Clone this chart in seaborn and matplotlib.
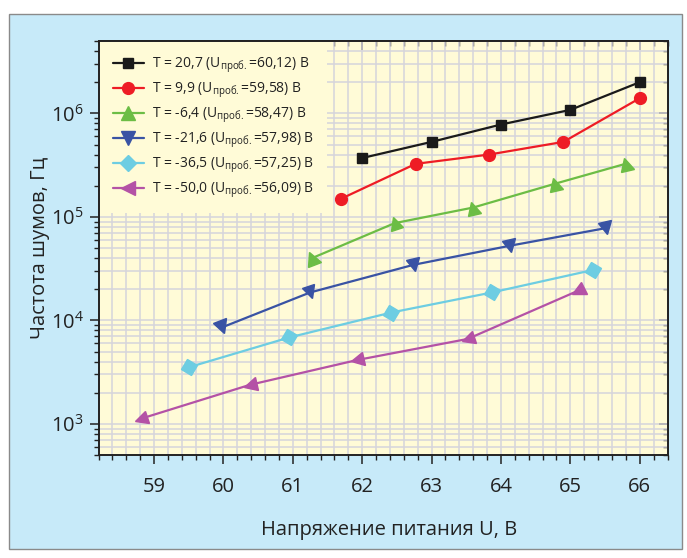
import numpy as np
import pandas as pd
import matplotlib
matplotlib.use("Agg")
import matplotlib.pyplot as plt
import seaborn as sns
from matplotlib.lines import Line2D
from matplotlib.markers import MarkerStyle
from matplotlib.transforms import Affine2D
from matplotlib.patches import Rectangle
from matplotlib.ticker import MultipleLocator, LogLocator, NullFormatter, LogFormatterMathtext

# ---- data -----------------------------------------------------------------
temps = ["20,7", "9,9", "-6,4", "-21,6", "-36,5", "-50,0"]
u_breakdown = ["60,12", "59,58", "58,47", "57,98", "57,25", "56,09"]

u_t1 = [62.0, 63.0, 64.0, 65.0, 66.0]
f_t1 = [3.7e5, 5.3e5, 7.8e5, 1.08e6, 2.0e6]

u_t2 = [61.7, 62.77, 63.83, 64.9, 66.0]
f_t2 = [1.5e5, 3.25e5, 4.0e5, 5.3e5, 1.4e6]

u_t3 = [61.28, 62.47, 63.6, 64.78, 65.8]
f_t3 = [4.0e4, 8.7e4, 1.23e5, 2.09e5, 3.26e5]

u_t4 = [59.98, 61.25, 62.74, 64.13, 65.52]
f_t4 = [8.55e3, 1.86e4, 3.44e4, 5.26e4, 7.8e4]

u_t5 = [59.5, 60.95, 62.42, 63.87, 65.32]
f_t5 = [3.52e3, 6.84e3, 1.19e4, 1.86e4, 3.06e4]

u_t6 = [58.81, 60.38, 61.93, 63.52, 65.11]
f_t6 = [1.12e3, 2.38e3, 4.14e3, 6.61e3, 1.93e4]

x_ticks = [59, 60, 61, 62, 63, 64, 65, 66]

# ---- styling --------------------------------------------------------------
colors = ["#1a1a1a", "#ee1c25", "#6cbd45", "#3953a4", "#6dcde2", "#b452a6"]
markers = ["s", "o", "^", "v", "D", "<"]
msizes = [7.5, 8.5, 9.5, 9.5, 8.0, 9.5]
rotate = [False, False, True, True, True, True]

panel_color = "#c7eaf9"
plot_bg = "#fffbd7"
grid_color = "#d5d5dc"
ink = "#222222"

sns.set_theme(style="white")
plt.rcParams["font.family"] = ["Open Sans", "DejaVu Sans"]
plt.rcParams["mathtext.default"] = "regular"

us = [u_t1, u_t2, u_t3, u_t4, u_t5, u_t6]
fs = [f_t1, f_t2, f_t3, f_t4, f_t5, f_t6]
labels = [f"T = {t} ($\\mathregular{{U_{{проб.}}}}$={u}) В" for t, u in zip(temps, u_breakdown)]

df = pd.concat(
    [pd.DataFrame({"U": u, "f": f, "series": lab}) for u, f, lab in zip(us, fs, labels)],
    ignore_index=True,
)

W, H = 687, 558
fig = plt.figure(figsize=(W / 100, H / 100), dpi=100)
fig.patch.set_facecolor("white")
panel = Rectangle((9 / W, 9 / H), 673 / W, 535 / H, transform=fig.transFigure,
                  facecolor=panel_color, edgecolor="#8a8a8a", linewidth=1.0, zorder=-10)
fig.add_artist(panel)

ax = fig.add_axes([98.5 / W, 103 / H, 569 / W, 414 / H])
ax.set_facecolor(plot_bg)
ax.set_yscale("log")
ax.set_xlim(58.2, 66.4)
ax.set_ylim(500, 5e6)

sns.lineplot(data=df, x="U", y="f", hue="series", palette=colors, estimator=None,
             sort=False, linewidth=1.6, legend=False, ax=ax, zorder=3)

# markers, triangles/diamonds turned along the local direction of the curve
for u, f, c, m, ms, rot in zip(us, fs, colors, markers, msizes, rotate):
    pts = ax.transData.transform(np.column_stack([u, f]))
    seg = np.degrees(np.arctan2(np.diff(pts[:, 1]), np.diff(pts[:, 0])))
    for i, (xu, yf) in enumerate(zip(u, f)):
        if rot:
            if i == 0:
                ang = seg[0]
            elif i == len(u) - 1:
                ang = seg[-1]
            else:
                ang = 0.5 * (seg[i - 1] + seg[i])
            mk = MarkerStyle(m, transform=Affine2D().rotate_deg(ang))
        else:
            mk = m
        ax.plot([xu], [yf], linestyle="none", marker=mk, markersize=ms,
                color=c, markeredgecolor=c, zorder=4)

# ticks: outward on the left/bottom, inward on the mirrored top/right
ax.xaxis.set_major_locator(MultipleLocator(1))
ax.xaxis.set_minor_locator(MultipleLocator(0.2))
ax.yaxis.set_major_locator(LogLocator(base=10, numticks=20))
ax.yaxis.set_minor_locator(LogLocator(base=10, subs=np.arange(2, 10), numticks=20))
ax.yaxis.set_major_formatter(LogFormatterMathtext())
ax.yaxis.set_minor_formatter(NullFormatter())
ax.set_xticks(x_ticks)
ax.tick_params(axis="both", which="major", direction="out", length=6.5, width=1.1,
               color=ink, labelsize=14.5, labelcolor=ink,
               bottom=True, left=True, top=False, right=False)
ax.tick_params(axis="both", which="minor", direction="out", length=3.5, width=1.0, color=ink,
               bottom=True, left=True, top=False, right=False)
ax.tick_params(axis="x", which="major", pad=9)
ax.tick_params(axis="y", which="major", pad=4)

top = ax.secondary_xaxis("top")
top.xaxis.set_major_locator(MultipleLocator(1))
top.xaxis.set_minor_locator(MultipleLocator(0.2))
top.tick_params(axis="x", which="major", direction="in", length=6.5, width=1.1, color=ink,
                top=True, bottom=False, labeltop=False, labelbottom=False)
top.tick_params(axis="x", which="minor", direction="in", length=3.5, width=1.0, color=ink,
                top=True, bottom=False)
top.spines["top"].set_linewidth(1.4)
top.spines["top"].set_color(ink)

right = ax.secondary_yaxis("right")
right.yaxis.set_major_locator(LogLocator(base=10, numticks=20))
right.yaxis.set_minor_locator(LogLocator(base=10, subs=np.arange(2, 10), numticks=20))
right.yaxis.set_minor_formatter(NullFormatter())
right.tick_params(axis="y", which="major", direction="in", length=6.5, width=1.1, color=ink,
                  right=True, left=False, labelright=False, labelleft=False)
right.tick_params(axis="y", which="minor", direction="in", length=3.5, width=1.0, color=ink,
                  right=True, left=False, labelright=False, labelleft=False)
right.spines["right"].set_linewidth(1.4)
right.spines["right"].set_color(ink)

for s in ax.spines.values():
    s.set_color(ink)
    s.set_linewidth(1.4)

ax.grid(True, which="both", color=grid_color, linewidth=1.1)
ax.set_axisbelow(True)

ax.set_xlabel("Напряжение питания U, В", fontsize=14.5, color=ink, va="top")
ax.xaxis.set_label_coords(0.51, -0.158)
ax.set_ylabel("Частота шумов, Гц", fontsize=14.5, color=ink)
ax.yaxis.set_label_coords(-0.085, 0.5)

handles = [Line2D([], [], color=c, marker=m, markersize=ms, linewidth=1.6)
           for c, m, ms in zip(colors, markers, msizes)]
leg = ax.legend(handles, labels, loc="upper left", bbox_to_anchor=(0.0, 1.0),
                fontsize=10.0, frameon=True, fancybox=False, framealpha=1.0,
                facecolor=plot_bg, edgecolor="none", handlelength=2.2,
                handletextpad=0.6, labelspacing=0.39, borderpad=0.95, borderaxespad=0.1)
leg.set_zorder(5)
for t in leg.get_texts():
    t.set_color(ink)

fig.savefig("out.png", dpi=100, facecolor="white")
